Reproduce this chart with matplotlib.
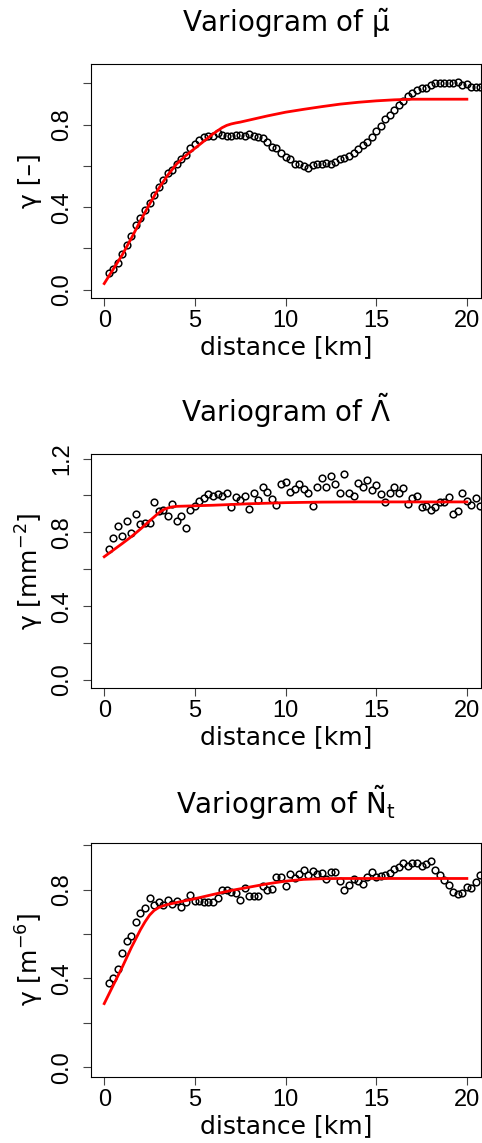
import numpy as np
import matplotlib
matplotlib.use("Agg")
from matplotlib import pyplot as plt

plt.rcParams['font.family'] = ['Liberation Sans', 'DejaVu Sans']
plt.rcParams['mathtext.fontset'] = 'dejavusans'
plt.rcParams['mathtext.default'] = 'regular'

# lag distances [km] of the empirical variograms
lag = [0.25, 0.5, 0.75, 1.0, 1.25, 1.5, 1.75, 2.0, 2.25, 2.5,
       2.75, 3.0, 3.25, 3.5, 3.75, 4.0, 4.25, 4.5, 4.75, 5.0,
       5.25, 5.5, 5.75, 6.0, 6.25, 6.5, 6.75, 7.0, 7.25, 7.5,
       7.75, 8.0, 8.25, 8.5, 8.75, 9.0, 9.25, 9.5, 9.75, 10.0,
       10.25, 10.5, 10.75, 11.0, 11.25, 11.5, 11.75, 12.0, 12.25, 12.5,
       12.75, 13.0, 13.25, 13.5, 13.75, 14.0, 14.25, 14.5, 14.75, 15.0,
       15.25, 15.5, 15.75, 16.0, 16.25, 16.5, 16.75, 17.0, 17.25, 17.5,
       17.75, 18.0, 18.25, 18.5, 18.75, 19.0, 19.25, 19.5, 19.75, 20.0,
       20.25, 20.5, 20.75]

gam_mu = [0.081, 0.10, 0.13, 0.174, 0.215, 0.26, 0.313, 0.347, 0.384, 0.42,
          0.46, 0.497, 0.53, 0.564, 0.58, 0.607, 0.635, 0.655, 0.685, 0.704,
          0.723, 0.74, 0.745, 0.745, 0.76, 0.75, 0.746, 0.746, 0.748, 0.748,
          0.743, 0.754, 0.745, 0.74, 0.735, 0.716, 0.69, 0.686, 0.66, 0.645,
          0.632, 0.61, 0.611, 0.598, 0.592, 0.602, 0.61, 0.607, 0.615, 0.609,
          0.621, 0.632, 0.639, 0.649, 0.663, 0.683, 0.70, 0.716, 0.742, 0.768,
          0.794, 0.828, 0.845, 0.87, 0.893, 0.913, 0.94, 0.951, 0.969, 0.976,
          0.976, 0.992, 1.0, 1.0, 1.0, 1.0, 1.0, 1.005, 0.99, 0.998,
          0.984, 0.984, 0.984]

gam_lam = [0.711, 0.770, 0.832, 0.778, 0.861, 0.796, 0.902, 0.843, 0.852, 0.852,
           0.962, 0.918, 0.920, 0.886, 0.955, 0.861, 0.886, 0.826, 0.920, 0.942,
           0.969, 0.987, 1.009, 0.998, 1.007, 0.998, 1.016, 0.936, 0.989, 0.974,
           0.998, 0.927, 1.016, 0.974, 1.047, 1.018, 0.983, 0.947, 1.063, 1.072,
           1.019, 1.037, 1.063, 1.037, 1.016, 0.944, 1.045, 1.097, 1.045, 1.104,
           1.061, 1.016, 1.117, 1.016, 0.998, 1.066, 1.047, 1.086, 1.029, 1.057,
           1.010, 0.965, 1.014, 1.045, 1.014, 1.041, 0.956, 0.985, 0.996, 0.936,
           0.944, 0.920, 0.940, 0.962, 0.967, 0.994, 0.897, 0.915, 1.016, 0.971,
           0.946, 0.987, 0.944]

gam_nt = [0.380, 0.404, 0.443, 0.515, 0.567, 0.590, 0.656, 0.693, 0.717, 0.763,
          0.731, 0.743, 0.731, 0.754, 0.735, 0.749, 0.723, 0.743, 0.777, 0.750,
          0.750, 0.746, 0.746, 0.744, 0.763, 0.798, 0.799, 0.787, 0.784, 0.751,
          0.807, 0.771, 0.771, 0.769, 0.814, 0.796, 0.801, 0.858, 0.858, 0.816,
          0.870, 0.852, 0.870, 0.888, 0.867, 0.883, 0.870, 0.874, 0.847, 0.877,
          0.877, 0.838, 0.798, 0.819, 0.849, 0.838, 0.826, 0.855, 0.880, 0.856,
          0.862, 0.867, 0.876, 0.894, 0.901, 0.919, 0.906, 0.921, 0.921, 0.904,
          0.915, 0.927, 0.886, 0.867, 0.841, 0.822, 0.787, 0.781, 0.784, 0.810,
          0.805, 0.834, 0.865]

# fitted variogram models
fit_x_mu = [0, 0.5, 1, 1.5, 2, 2.5, 3, 3.5, 4, 4.5, 5, 5.5, 6, 6.5, 6.75, 7,
            7.25, 7.5, 8, 9, 10, 11, 12, 13, 14, 15, 16, 17, 18, 19, 20]
fit_mu = [0.03, 0.10, 0.17, 0.25, 0.335, 0.415, 0.49, 0.555, 0.61, 0.65, 0.685,
          0.72, 0.755, 0.785, 0.796, 0.803, 0.808, 0.812, 0.822, 0.842, 0.86,
          0.874, 0.887, 0.899, 0.908, 0.915, 0.92, 0.923, 0.923, 0.923, 0.923]

fit_x_lam = [0, 0.5, 1, 1.5, 2, 2.5, 3, 3.25, 3.5, 3.75, 4, 5, 6, 8, 10, 12,
             14, 16, 18, 20]
fit_lam = [0.668, 0.704, 0.74, 0.777, 0.818, 0.862, 0.905, 0.922, 0.932,
           0.938, 0.941, 0.944, 0.947, 0.955, 0.961, 0.964, 0.965, 0.965,
           0.965, 0.965]

fit_x_nt = [0, 0.5, 1, 1.5, 2, 2.25, 2.5, 2.75, 3, 3.25, 3.5, 4, 5, 6, 7, 8,
            9, 10, 11, 12, 13, 14, 16, 18, 20]
fit_nt = [0.287, 0.37, 0.452, 0.54, 0.62, 0.655, 0.685, 0.706, 0.719, 0.727,
          0.733, 0.742, 0.759, 0.778, 0.796, 0.811, 0.826, 0.838, 0.846,
          0.849, 0.85, 0.85, 0.85, 0.85, 0.85]

titles = [r'Variogram of $\tilde{\mu}$', r'Variogram of $\tilde{\Lambda}$',
          r'Variogram of $\tilde{N}_t$']
ylabels = ['γ [–]', r'γ [mm$^{-2}$]', r'γ [m$^{-6}$]']
ylims = [(-0.040, 1.0935), (-0.045, 1.223), (-0.042, 1.011)]
ylab_ticks = [[0.0, 0.4, 0.8], [0.0, 0.4, 0.8, 1.2], [0.0, 0.4, 0.8]]
title_gap = [31.7, 32.6, 28.5]

gammas = [gam_mu, gam_lam, gam_nt]
fits = [(fit_x_mu, fit_mu), (fit_x_lam, fit_lam), (fit_x_nt, fit_nt)]

W, H = 482, 1143
fig = plt.figure(figsize=(W / 100, H / 100), dpi=100)
tops = [64, 454.3, 842.7]
ax_h = 234
lab_font = 'DejaVu Sans'

for i in range(3):
    ax = fig.add_axes([91 / W, (H - tops[i] - ax_h) / H, 390 / W, ax_h / H])
    ax.plot(lag, gammas[i], 'o', mfc='none', mec='black', ms=4.8, mew=1.1)
    ax.plot(fits[i][0], fits[i][1], '-', color='red', lw=2.0)
    ax.set_xlim(-0.73, 20.78)
    ax.set_ylim(*ylims[i])
    ax.set_xticks([0, 5, 10, 15, 20])
    top = ylims[i][1]
    yt = [v for v in [0.0, 0.2, 0.4, 0.6, 0.8, 1.0, 1.2] if v <= top]
    ax.set_yticks(yt)
    ax.set_yticklabels(['%.1f' % v if v in ylab_ticks[i] else '' for v in yt])
    ax.tick_params(axis='both', labelsize=17, length=6, width=0.8,
                   direction='out', color='#444444')
    ax.tick_params(axis='x', pad=2.5)
    ax.tick_params(axis='y', pad=7, labelrotation=90)
    for lab in ax.get_yticklabels():
        lab.set_va('center')
    for sp in ax.spines.values():
        sp.set_linewidth(0.8)
    ax.set_xlabel('distance [km]', fontsize=18, family=lab_font, va='baseline')
    ax.xaxis.set_label_coords(0.5, -56 / ax_h)
    ax.set_ylabel(ylabels[i], fontsize=18, family=lab_font, va='center')
    ax.yaxis.set_label_coords(-61 / 390, 0.5)
    ax.text(0.5, 1 + title_gap[i] / ax_h, titles[i], transform=ax.transAxes,
            ha='center', va='baseline', fontsize=20, family=lab_font)

fig.savefig('out.png', dpi=100)
